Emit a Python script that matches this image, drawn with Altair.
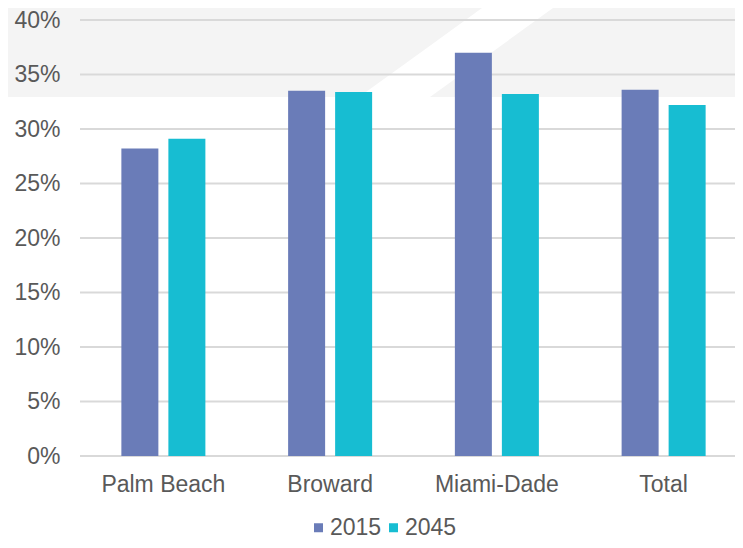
import altair as alt
import pandas as pd

# ---- data ----
categories = ["Palm Beach", "Broward", "Miami-Dade", "Total"]
years = ["2015", "2045"]
share_2015 = [28.2, 33.5, 37.0, 33.6]
share_2045 = [29.1, 33.4, 33.2, 32.2]
y_ticks = [0, 5, 10, 15, 20, 25, 30, 35, 40]

rows = []
for c, a, b in zip(categories, share_2015, share_2045):
    rows.append({"county": c, "year": "2015", "share": a / 100})
    rows.append({"county": c, "year": "2045", "share": b / 100})
df = pd.DataFrame(rows)

# ---- styling ----
W, H = 655, 436
BAND_RANGE = 667
FONT = "Liberation Sans"
TEXT = "#595959"
GRID = "#d9d9d9"
BAND = "#f4f4f4"
COLORS = ["#6a7cb8", "#17bdd2"]

# decorative grey band with a white diagonal stripe (pixel geometry, not data)
band = alt.Chart(pd.DataFrame({"k": [0]})).mark_rect(color=BAND).encode(
    x=alt.value(-80), x2=alt.value(W + 10), y=alt.value(-20), y2=alt.value(77)
)
stripe_geom = pd.DataFrame({
    "px": [279, 350, 413, 484],
    "top": [77, 25.7, -20, -20],
    "bot": [77, 77, 31.5, -20],
})
stripe = alt.Chart(stripe_geom).mark_area(color="white", orient="vertical").encode(
    x=alt.X("px:Q", scale=None, axis=None),
    y=alt.Y("top:Q", scale=None, axis=None),
    y2="bot:Q",
)

grid = alt.Chart(pd.DataFrame({"t": [v / 100 for v in y_ticks]})).mark_rule(
    color=GRID, strokeWidth=2
).encode(
    y=alt.Y("t:Q", scale=alt.Scale(domain=[0, 0.4], nice=False), axis=None),
    x=alt.value(0),
    x2=alt.value(W),
)

bars = alt.Chart(df).mark_bar().encode(
    x=alt.X(
        "county:N", sort=categories,
        scale=alt.Scale(paddingInner=0, paddingOuter=0, range=[0, BAND_RANGE]),
        axis=alt.Axis(title=None, orient="bottom", labelFontSize=23, labelColor=TEXT,
                      labelFont=FONT, labelPadding=17.5, ticks=False, tickSize=0,
                      domain=False, labelAngle=0, grid=False),
    ),
    xOffset=alt.XOffset("year:N", sort=years,
                        scale=alt.Scale(paddingInner=0.2128, paddingOuter=0.88)),
    y=alt.Y(
        "share:Q", scale=alt.Scale(domain=[0, 0.4], nice=False),
        axis=alt.Axis(title=None, orient="left", format=".0%",
                      values=[v / 100 for v in y_ticks], grid=False, ticks=False,
                      tickSize=0, domain=False, labelPadding=20, labelFontSize=23,
                      labelColor=TEXT, labelFont=FONT, zindex=1),
    ),
    color=alt.Color(
        "year:N", sort=years, scale=alt.Scale(domain=years, range=COLORS),
        legend=alt.Legend(title=None, orient="none", legendX=227, legendY=496,
                          direction="horizontal", symbolType="square", symbolSize=81,
                          symbolStrokeWidth=0, labelFontSize=23, labelColor=TEXT,
                          labelFont=FONT, columnPadding=0, labelOffset=0, padding=0),
    ),
)

chart = (
    alt.layer(band, stripe, grid, bars)
    .resolve_scale(x="independent", y="independent")
    .properties(width=W, height=H,
                padding={"left": 72, "top": 12, "right": 0, "bottom": 84},
                autosize=alt.AutoSizeParams(type="none"))
    .configure(font=FONT, background="white")
    .configure_view(stroke=None)
)

chart.save("out.html", embed_options={"renderer": "svg", "actions": False})
